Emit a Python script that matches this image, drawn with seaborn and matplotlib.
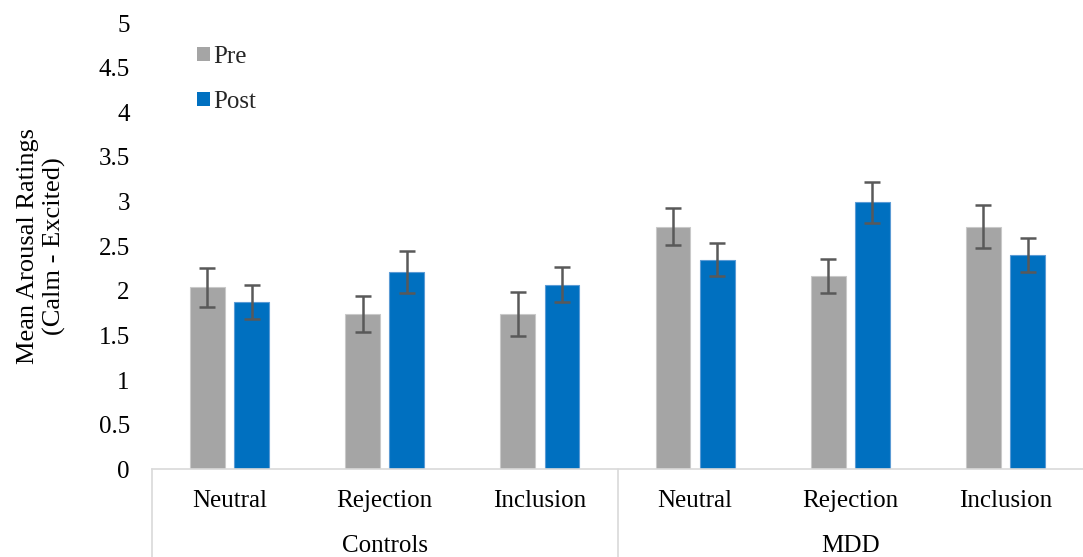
import numpy as np
import pandas as pd
import matplotlib.pyplot as plt
import seaborn as sns
from matplotlib.patches import Patch

# data
groups = ["Controls", "Controls", "Controls", "MDD", "MDD", "MDD"]
conditions = ["Neutral", "Rejection", "Inclusion", "Neutral", "Rejection", "Inclusion"]
phases = ["Pre", "Post"]
pre_mean = [2.04, 1.74, 1.74, 2.72, 2.17, 2.72]
pre_err = [0.22, 0.20, 0.25, 0.21, 0.19, 0.24]
post_mean = [1.87, 2.21, 2.07, 2.35, 2.99, 2.40]
post_err = [0.19, 0.24, 0.20, 0.18, 0.23, 0.19]
yticks = [0, 0.5, 1, 1.5, 2, 2.5, 3, 3.5, 4, 4.5, 5]

slots = [f"{g} {c}" for g, c in zip(groups, conditions)]
df = pd.DataFrame({
    "slot": slots * 2,
    "phase": ["Pre"] * 6 + ["Post"] * 6,
    "mean": pre_mean + post_mean,
})

gray = "#A5A5A5"
blue = "#0070C0"
edge = {"Pre": "#c9c9c9", "Post": "#5b9bd5"}

sns.set_theme(style="white")
plt.rcParams["font.family"] = ["Liberation Serif", "DejaVu Serif"]
fs = 18

W, H = 1083, 557
fig = plt.figure(figsize=(W / 100, H / 100), dpi=100)
ax = fig.add_axes([152 / W, (H - 469.3) / H, 931 / W, 446.3 / H])

sns.barplot(data=df, x="slot", y="mean", hue="phase", order=slots,
            hue_order=phases, palette=[gray, blue], saturation=1,
            width=0.57, gap=0.21, errorbar=None, legend=False, ax=ax)

for cont, ph, errs in zip(ax.containers, phases, [pre_err, post_err]):
    xs = [p.get_x() + p.get_width() / 2 for p in cont]
    hs = [p.get_height() for p in cont]
    for p in cont:
        p.set_edgecolor(edge[ph])
        p.set_linewidth(0.8)
    ax.errorbar(xs, hs, yerr=errs, fmt="none", ecolor="#595959",
                elinewidth=1.8, capsize=5.8, capthick=1.8, zorder=5)

ax.set_xlim(-0.5, len(slots) - 0.5)
ax.set_ylim(0, 5)
ax.set_yticks(yticks)
ax.set_yticklabels([f"{t:g}" for t in yticks])
ax.tick_params(axis="y", length=0, pad=16, labelsize=fs, colors="black")
ax.set_xticks(range(len(slots)))
ax.set_xticklabels(conditions)
ax.tick_params(axis="x", length=0, pad=15, labelsize=fs, colors="black")
ax.set_xlabel("")
ax.set_ylabel("Mean Arousal Ratings\n(Calm - Excited)", fontsize=19,
              color="black", linespacing=1.25)
ax.yaxis.set_label_coords(-0.092, 0.5)

for s in ["top", "right", "left"]:
    ax.spines[s].set_visible(False)
ax.spines["bottom"].set_color("#d9d9d9")
ax.spines["bottom"].set_linewidth(1.2)

# group separators and group labels below the category labels
trans = ax.get_xaxis_transform()
bounds = [-0.5] + [i + 0.5 for i in range(len(groups) - 1) if groups[i] != groups[i + 1]]
for b in bounds:
    ax.plot([b, b], [0, -0.2], transform=trans, color="#d9d9d9", lw=1.2, clip_on=False)
for g in dict.fromkeys(groups):
    idx = [i for i, gg in enumerate(groups) if gg == g]
    ax.text(np.mean(idx), -(546 - 469.3) / 446.3, g, transform=trans,
            ha="center", va="center", fontsize=fs, color="black")

handles = [Patch(facecolor=gray, edgecolor="none"), Patch(facecolor=blue, edgecolor="none")]
fig.legend(handles, phases, loc="upper left", bbox_to_anchor=(197 / W, 1 - 46 / H),
           frameon=False, fontsize=fs, handlelength=0.5, handleheight=0.5,
           handletextpad=0.15, labelspacing=0.9, borderpad=0, borderaxespad=0)

fig.savefig("out.png", dpi=100)
